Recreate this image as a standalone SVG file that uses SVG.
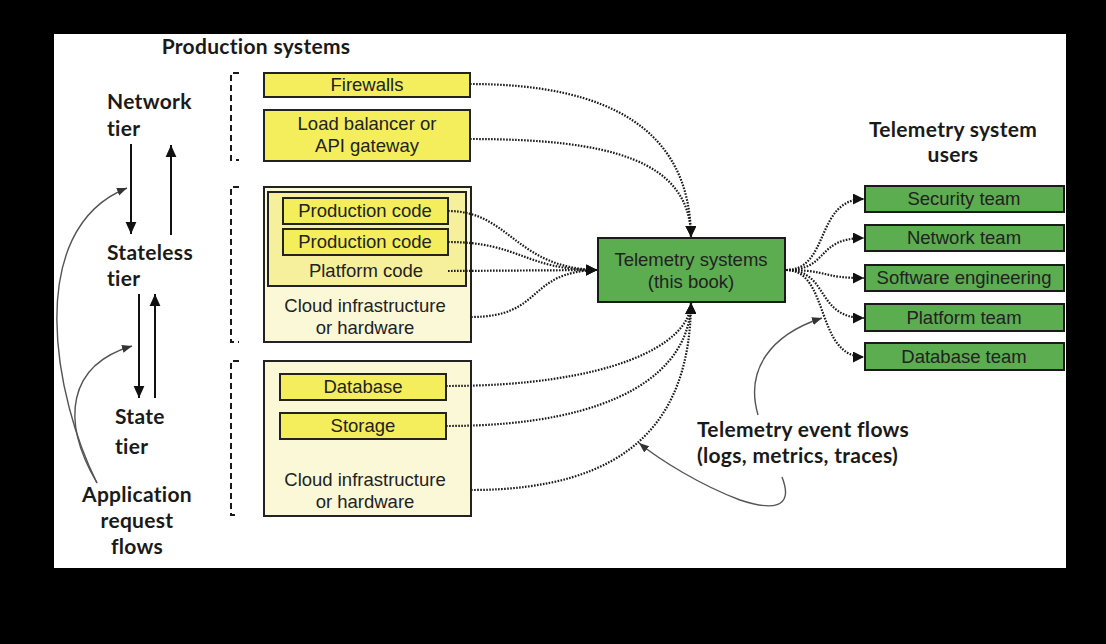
<svg xmlns="http://www.w3.org/2000/svg" width="1106" height="644" viewBox="0 0 1106 644">
<defs>
<style>
.bold{font-family:Lato,"Open Sans","DejaVu Sans",sans-serif;font-weight:bold;font-size:21px;letter-spacing:0.3px;fill:#1a1a1a}
.lbl{font-family:"Liberation Sans",Arial,sans-serif;font-size:18.5px;fill:#222;text-anchor:middle}
.yb{fill:#f4ee5c;stroke:#222;stroke-width:2}
.pl{fill:#f6f09c;stroke:#222;stroke-width:2}
.cl{fill:#fbf8d8;stroke:#222;stroke-width:2}
.gb{fill:#5cac50;stroke:#1a1a1a;stroke-width:2}
.dot{fill:none;stroke:#1a1a1a;stroke-width:2.2;stroke-dasharray:1.6 1.4}
.br{fill:none;stroke:#1a1a1a;stroke-width:2;stroke-dasharray:6 4}
.grey{fill:none;stroke:#555;stroke-width:1.4}
.blk{fill:none;stroke:#111;stroke-width:2}
</style>
<marker id="ah" viewBox="0 0 10 10" refX="10" refY="5" markerWidth="11" markerHeight="11" markerUnits="userSpaceOnUse" orient="auto"><path d="M0,0 L10,5 L0,10 z" fill="#111"/></marker>
<marker id="ahg" viewBox="0 0 10 10" refX="10" refY="5" markerWidth="10" markerHeight="10" markerUnits="userSpaceOnUse" orient="auto"><path d="M0,1 L10,5 L0,9 z" fill="#333"/></marker>
<marker id="ahb" viewBox="0 0 10 10" refX="10" refY="5" markerWidth="12" markerHeight="12" markerUnits="userSpaceOnUse" orient="auto"><path d="M0,0.5 L10,5 L0,9.5 z" fill="#111"/></marker>
</defs>
<rect x="0" y="0" width="1106" height="644" fill="#000"/>
<rect x="54" y="34" width="1012" height="534" fill="#fff"/>

<g id="labels">
<text class="bold" x="256" y="54" text-anchor="middle">Production systems</text>
<text class="bold" x="107" y="109">Network</text>
<text class="bold" x="107" y="136">tier</text>
<text class="bold" x="107" y="260">Stateless</text>
<text class="bold" x="107" y="286">tier</text>
<text class="bold" x="115" y="424">State</text>
<text class="bold" x="115" y="454">tier</text>
<text class="bold" x="137" y="502" text-anchor="middle">Application</text>
<text class="bold" x="137" y="528" text-anchor="middle">request</text>
<text class="bold" x="137" y="554" text-anchor="middle">flows</text>
<text class="bold" x="953" y="137" text-anchor="middle">Telemetry system</text>
<text class="bold" x="953" y="162" text-anchor="middle">users</text>
<text class="bold" x="697" y="437">Telemetry event flows</text>
<text class="bold" x="697" y="463">(logs, metrics, traces)</text>
</g>

<g id="brackets">
<path class="br" d="M239,73 H231 V160 H239"/>
<path class="br" d="M239,187 H231 V342 H239"/>
<path class="br" d="M239,361 H231 V515 H239"/>
</g>

<g id="network-tier">
<g id="firewalls"><rect class="yb" x="264" y="73" width="206" height="24"/><text class="lbl" x="367" y="91">Firewalls</text></g>
<g id="loadbalancer"><rect class="yb" x="264" y="110" width="206" height="51"/><text class="lbl" x="367" y="130">Load balancer or</text><text class="lbl" x="367" y="152">API gateway</text></g>
</g>

<g id="stateless-tier">
<rect class="cl" x="264" y="187" width="207" height="155"/>
<rect class="pl" x="268" y="192" width="198" height="94"/>
<g id="prodcode1"><rect class="yb" x="283" y="198" width="165" height="26"/><text class="lbl" x="365" y="217">Production code</text></g>
<g id="prodcode2"><rect class="yb" x="283" y="229" width="165" height="26"/><text class="lbl" x="365" y="248">Production code</text></g>
<text class="lbl" x="366" y="277">Platform code</text>
<text class="lbl" x="365" y="312">Cloud infrastructure</text>
<text class="lbl" x="365" y="334">or hardware</text>
</g>

<g id="state-tier">
<rect class="cl" x="264" y="361" width="207" height="155"/>
<g id="database"><rect class="yb" x="280" y="374" width="166" height="26"/><text class="lbl" x="363" y="393">Database</text></g>
<g id="storage"><rect class="yb" x="280" y="413" width="166" height="26"/><text class="lbl" x="363" y="432">Storage</text></g>
<text class="lbl" x="365" y="486">Cloud infrastructure</text>
<text class="lbl" x="365" y="508">or hardware</text>
</g>

<g id="telemetry"><rect class="gb" x="598" y="238" width="187" height="64"/><text class="lbl" x="691" y="266">Telemetry systems</text><text class="lbl" x="691" y="288">(this book)</text></g>

<g id="users">
<g id="security"><rect class="gb" x="865" y="186" width="199" height="26"/><text class="lbl" x="964" y="205">Security team</text></g>
<g id="networkteam"><rect class="gb" x="865" y="225" width="199" height="26"/><text class="lbl" x="964" y="244">Network team</text></g>
<g id="softeng"><rect class="gb" x="865" y="265" width="199" height="26"/><text class="lbl" x="964" y="284">Software engineering</text></g>
<g id="platformteam"><rect class="gb" x="865" y="304" width="199" height="27"/><text class="lbl" x="964" y="324">Platform team</text></g>
<g id="dbteam"><rect class="gb" x="865" y="343" width="199" height="27"/><text class="lbl" x="964" y="363">Database team</text></g>
</g>

<g id="connectors">
<path class="dot" d="M470,84 C610,84 690,130 691,237" marker-end="url(#ah)"/>
<path class="dot" d="M470,139 C610,139 690,160 691,237" marker-end="url(#ah)"/>
<path class="dot" d="M448,211 C510,211 515,268 597,270" marker-end="url(#ah)"/>
<path class="dot" d="M448,242 C520,242 525,270 597,270" marker-end="url(#ah)"/>
<path class="dot" d="M448,271 L597,270" marker-end="url(#ah)"/>
<path class="dot" d="M471,317 C545,317 525,272 597,270" marker-end="url(#ah)"/>
<path class="dot" d="M446,386 C610,386 690,345 691,303" marker-end="url(#ah)"/>
<path class="dot" d="M446,426 C620,426 690,370 691,303" marker-end="url(#ah)"/>
<path class="dot" d="M471,490 C630,490 690,420 691,303" marker-end="url(#ah)"/>
<path class="dot" d="M786,270 C830,270 815,199 864,199" marker-end="url(#ah)"/>
<path class="dot" d="M786,270 C830,270 815,238 864,238" marker-end="url(#ah)"/>
<path class="dot" d="M786,270 C830,270 820,278 864,278" marker-end="url(#ah)"/>
<path class="dot" d="M786,270 C830,270 815,318 864,318" marker-end="url(#ah)"/>
<path class="dot" d="M786,270 C830,270 815,357 864,357" marker-end="url(#ah)"/>
<path class="blk" d="M131,144 V234" marker-end="url(#ahb)"/>
<path class="blk" d="M171,235 V145" marker-end="url(#ahb)"/>
<path class="blk" d="M139,294 V398" marker-end="url(#ahb)"/>
<path class="blk" d="M155,398 V294" marker-end="url(#ahb)"/>
<path class="grey" d="M97,483 C55,400 22,230 127,188" marker-end="url(#ahg)"/>
<path class="grey" d="M97,483 C60,420 68,365 132,346" marker-end="url(#ahg)"/>
<path class="grey" d="M758,415 C745,370 770,335 822,318" marker-end="url(#ahg)"/>
<path class="grey" d="M782,477 C795,510 770,510 740,500 C700,485 660,460 639,443" marker-end="url(#ahg)"/>
</g>
</svg>
